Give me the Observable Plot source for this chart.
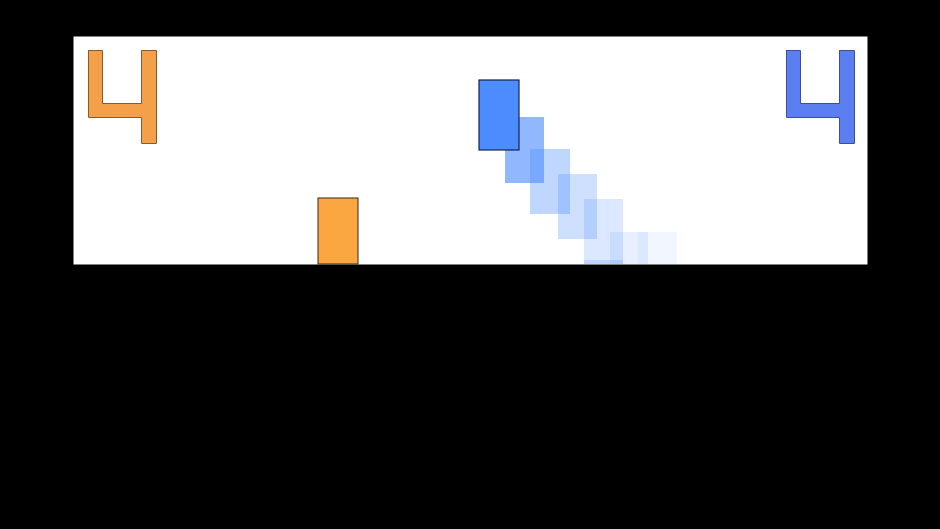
<!DOCTYPE html>
<html>
<head>
<meta charset="utf-8">
<script src="https://cdn.jsdelivr.net/npm/d3@7"></script>
<script src="https://cdn.jsdelivr.net/npm/@observablehq/plot@0.6"></script>
<style>
  html, body { margin: 0; padding: 0; background: #000; }
  #chart svg { display: block; }
</style>
</head>
<body>
<div id="chart"></div>
<script>
// Field is 794 x 228 units, y grows downward.
const fieldSize = [794, 228];

// Scores
const scoreLeft = 4;
const scoreRight = 4;

// Paddle (orange player)
const paddleX = [245, 285];
const paddleY = [162, 228];

// Ball (blue) current position
const ballX = [406, 446];
const ballY = [44, 114];

// Ball trail (previous positions), oldest last
const trailX1 = [432, 457, 485, 511, 537, 565, 511];
const trailX2 = [471, 497, 524, 550, 575, 604, 550];
const trailY1 = [81, 113, 138, 163, 196, 196, 224];
const trailY2 = [147, 178, 203, 229, 262, 262, 290];
const trailOpacity = [0.62, 0.36, 0.27, 0.2, 0.13, 0.08, 0.2];

// Digit "4" outline polygon (unit shape, offsets added per side)
const digit4X = [0, 14, 14, 53, 53, 68, 68, 53, 53, 0, 0];
const digit4Y = [0, 0, 53, 53, 0, 0, 93, 93, 67, 67, 0];
const digitOriginX = [15, 713];
const digitOriginY = [14, 14];
const digitFill = ["#F4A04A", "#5B7FF0"];
const digitStroke = ["#8a5a2c", "#3a4f9c"];

const trail = trailX1.map((x1, i) => ({x1, x2: trailX2[i], y1: trailY1[i], y2: trailY2[i], o: trailOpacity[i]}));

function digitPoints(side) {
  return digit4X.map((dx, i) => ({x: digitOriginX[side] + dx, y: digitOriginY[side] + digit4Y[i]}));
}
function digitRects(side) {
  const ox = digitOriginX[side], oy = digitOriginY[side];
  return [
    {x1: ox + digit4X[0], x2: ox + digit4X[1], y1: oy + digit4Y[0], y2: oy + digit4Y[8]},
    {x1: ox + digit4X[0], x2: ox + digit4X[6], y1: oy + digit4Y[2], y2: oy + digit4Y[8]},
    {x1: ox + digit4X[4], x2: ox + digit4X[6], y1: oy + digit4Y[4], y2: oy + digit4Y[6]}
  ];
}

const marks = [
  Plot.frame({fill: "white", stroke: "none"}),
  Plot.rect(trail, {x1: "x1", x2: "x2", y1: "y1", y2: "y2", fill: "#4D8CFF", fillOpacity: d => d.o, clip: true}),
  Plot.rect([{x1: ballX[0], x2: ballX[1], y1: ballY[0], y2: ballY[1]}], {x1: "x1", x2: "x2", y1: "y1", y2: "y2", fill: "#4D8CFF", stroke: "#16224a", strokeWidth: 1.2}),
  Plot.rect([{x1: paddleX[0], x2: paddleX[1], y1: paddleY[0], y2: paddleY[1]}], {x1: "x1", x2: "x2", y1: "y1", y2: "y2", fill: "#FBA741", stroke: "#3a2410", strokeWidth: 1})
];
[0, 1].forEach(side => {
  marks.push(Plot.rect(digitRects(side), {x1: "x1", x2: "x2", y1: "y1", y2: "y2", fill: digitFill[side], inset: 0}));
  marks.push(Plot.line(digitPoints(side), {x: "x", y: "y", stroke: digitStroke[side], strokeWidth: 1, curve: "linear"}));
});

const chart = Plot.plot({
  width: 940,
  height: 529,
  marginLeft: 73,
  marginRight: 73,
  marginTop: 36,
  marginBottom: 265,
  style: {background: "#000"},
  x: {domain: [0, fieldSize[0]], axis: null},
  y: {domain: [0, fieldSize[1]], reverse: true, axis: null},
  marks
});
document.getElementById("chart").appendChild(chart);
</script>
</body>
</html>
